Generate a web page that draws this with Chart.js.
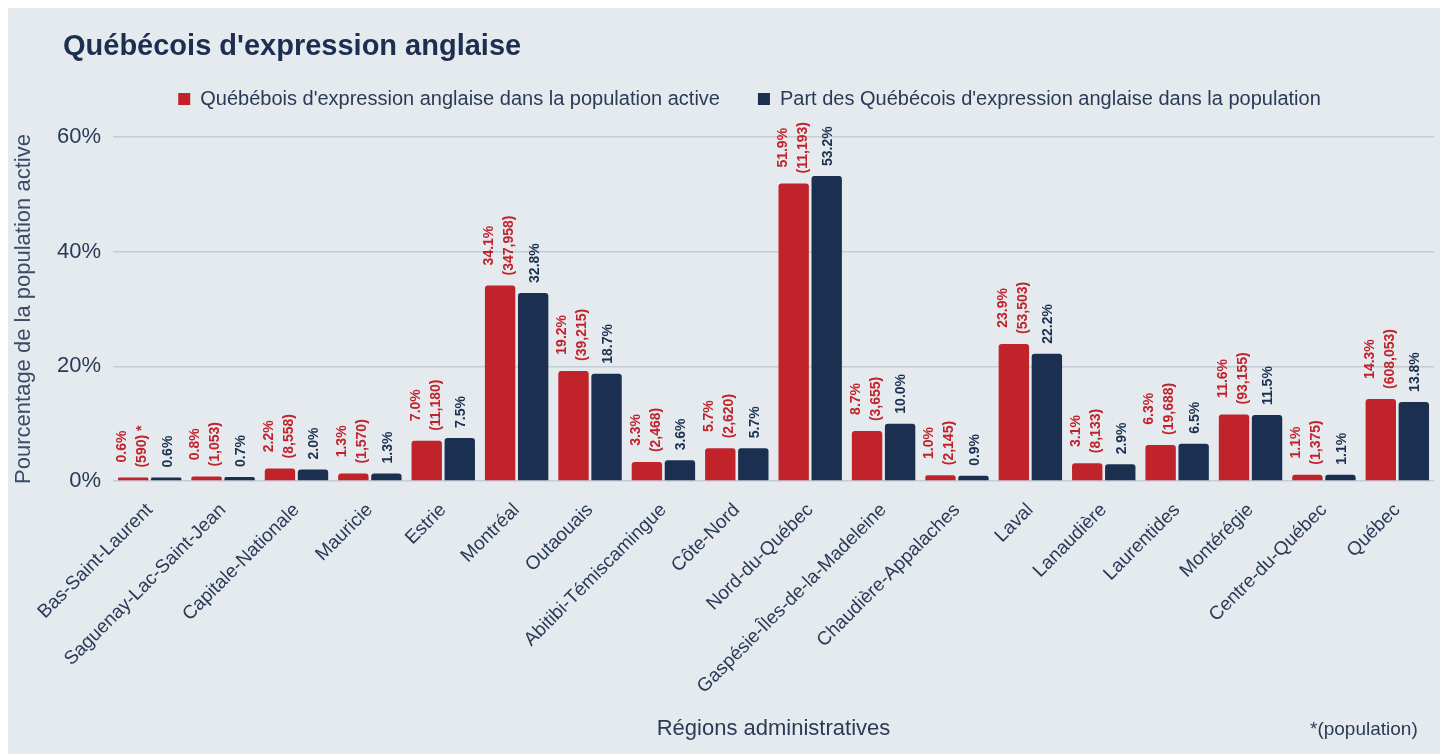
<!DOCTYPE html>
<html lang="fr">
<head>
<meta charset="utf-8">
<title>Québécois d'expression anglaise</title>
<script src="https://cdn.jsdelivr.net/npm/chart.js@4/dist/chart.umd.min.js"></script>
<style>
  body { margin: 0; background: #fff; font-family: "Helvetica Neue", "Liberation Sans", Arial, sans-serif; }
  .panel { position: absolute; left: 8px; top: 8px; width: 1432px; height: 746px; background: #e5eaef; }
  .wrap { position: absolute; left: 0; top: 0; width: 1447px; height: 754px; }
  h1 { position: absolute; left: 63px; top: 28px; margin: 0; font-size: 29px; line-height: 34px; font-weight: bold; color: #1c2f50; }
  .note { position: absolute; left: 1310px; top: 717px; font-size: 19px; line-height: 24px; color: #2b3a57; }
</style>
</head>
<body>
<div class="panel"></div>
<div class="wrap"><canvas id="chart" width="1447" height="754"></canvas></div>
<h1>Québécois d'expression anglaise</h1>
<div class="note">*(population)</div>

<script>
const regions = [
  'Bas-Saint-Laurent', 'Saguenay-Lac-Saint-Jean', 'Capitale-Nationale', 'Mauricie', 'Estrie',
  'Montréal', 'Outaouais', 'Abitibi-Témiscamingue', 'Côte-Nord', 'Nord-du-Québec',
  'Gaspésie-Îles-de-la-Madeleine', 'Chaudière-Appalaches', 'Laval', 'Lanaudière', 'Laurentides',
  'Montérégie', 'Centre-du-Québec', 'Québec'
];
// share of english-speaking Quebecers in the labour force (%) and their count
const activeShare = [0.6, 0.8, 2.2, 1.3, 7.0, 34.1, 19.2, 3.3, 5.7, 51.9, 8.7, 1.0, 23.9, 3.1, 6.3, 11.6, 1.1, 14.3];
const activeCount = [590, 1053, 8558, 1570, 11180, 347958, 39215, 2468, 2620, 11193, 3655, 2145, 53503, 8133, 19688, 93155, 1375, 608053];
// share in the whole population (%)
const populationShare = [0.6, 0.7, 2.0, 1.3, 7.5, 32.8, 18.7, 3.6, 5.7, 53.2, 10.0, 0.9, 22.2, 2.9, 6.5, 11.5, 1.1, 13.8];
const yTickValues = [0, 20, 40, 60];

const RED = '#c1232b';
const NAVY = '#1b3050';
const TEXT = '#2b3a57';
const FONT = '"Helvetica Neue", "Liberation Sans", Arial, sans-serif';

// rotated value labels above each bar
const barLabels = {
  id: 'barLabels',
  afterDatasetsDraw(chart) {
    const ctx = chart.ctx;
    ctx.save();
    ctx.font = 'bold 14px ' + FONT;
    ctx.textAlign = 'center';
    ctx.textBaseline = 'middle';
    chart.data.datasets.forEach((ds, i) => {
      chart.getDatasetMeta(i).data.forEach((bar, j) => {
        let lines;
        if (i === 0) {
          lines = [activeShare[j].toFixed(1) + '%',
                   '(' + activeCount[j].toLocaleString('en-US') + ')' + (j === 0 ? ' *' : '')];
        } else {
          lines = [populationShare[j].toFixed(1) + '%'];
        }
        const w = Math.max(...lines.map(l => ctx.measureText(l).width));
        ctx.fillStyle = i === 0 ? RED : NAVY;
        ctx.save();
        ctx.translate(bar.x + (i === 0 ? -1 : 1.5), bar.y - 10 - w / 2);
        ctx.rotate(-Math.PI / 2);
        lines.forEach((l, k) => {
          ctx.fillText(l, 0, (k - (lines.length - 1) / 2) * 20);
        });
        ctx.restore();
      });
    });
    ctx.restore();
  }
};

// legend sits a bit left of the plot centre in the original
const legendShift = {
  id: 'legendShift',
  afterLayout(chart) {
    chart.legend.left -= 24;
    chart.legend.right -= 24;
  }
};

new Chart(document.getElementById('chart'), {
  type: 'bar',
  data: {
    labels: regions,
    datasets: [
      {
        label: "Québébois d'expression anglaise dans la population active",
        data: activeShare,
        backgroundColor: RED,
        borderRadius: 3,
        categoryPercentage: 0.9,
        barPercentage: 0.92
      },
      {
        label: "Part des Québécois d'expression anglaise dans la population",
        data: populationShare,
        backgroundColor: NAVY,
        borderRadius: 3,
        categoryPercentage: 0.9,
        barPercentage: 0.92
      }
    ]
  },
  options: {
    responsive: false,
    animation: false,
    layout: { padding: { top: 51, left: 7, right: 13, bottom: 8 } },
    plugins: {
      legend: {
        position: 'top',
        fullSize: false,
        labels: {
          boxWidth: 12,
          boxHeight: 12,
          padding: 38,
          color: TEXT,
          font: { size: 20, family: FONT }
        }
      },
      tooltip: { enabled: false }
    },
    scales: {
      x: {
        grid: { display: false },
        border: { display: false },
        ticks: {
          color: TEXT,
          font: { size: 19, family: FONT },
          minRotation: 45,
          maxRotation: 45,
          padding: 10,
          autoSkip: false
        },
        title: {
          display: true,
          text: 'Régions administratives',
          color: TEXT,
          font: { size: 22, family: FONT }
        },
        afterFit: s => { s.height = 265; }
      },
      // empty spacer between legend and plot
      xTop: {
        type: 'category',
        position: 'top',
        grid: { display: false },
        border: { display: false },
        ticks: { display: false },
        afterFit: s => { s.height = 18; }
      },
      y: {
        min: 0,
        max: 60,
        grid: { color: '#c5ccd6', lineWidth: 1.5, drawTicks: false },
        border: { display: false },
        ticks: {
          color: TEXT,
          font: { size: 22, family: FONT },
          padding: 12,
          callback: v => v + '%'
        },
        afterBuildTicks: s => { s.ticks = yTickValues.map(v => ({ value: v })); },
        title: {
          display: true,
          text: 'Pourcentage de la population active',
          color: '#3b4b68',
          font: { size: 22, family: FONT }
        },
        afterFit: s => { s.width = 106; }
      }
    }
  },
  plugins: [barLabels, legendShift]
});
</script>
</body>
</html>
